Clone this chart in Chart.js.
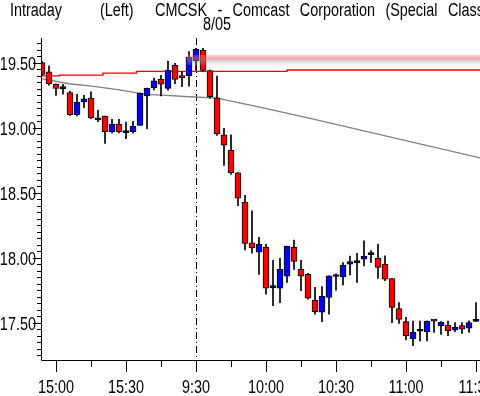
<!DOCTYPE html>
<html>
<head>
<meta charset="utf-8">
<script src="https://cdn.jsdelivr.net/npm/chart.js@4.4.1/dist/chart.umd.min.js"></script>
<style>
html,body{margin:0;padding:0;background:#fff;}
#wrap{position:relative;width:480px;height:396px;overflow:hidden;}
#c{position:absolute;left:0;top:0;}
.t{position:absolute;font-family:"Liberation Sans",Arial,sans-serif;font-size:18px;line-height:18px;color:#000;
   white-space:nowrap;transform:scaleX(0.8);transform-origin:0 0;word-spacing:8px;}
</style>
</head>
<body>
<div id="wrap">
<canvas id="c" width="480" height="396"></canvas>
<div class="t" style="left:10px;top:1px">Intraday</div>
<div class="t" style="left:100px;top:1px">(Left)</div>
<div class="t" style="left:155px;top:1px">CMCSK - Comcast Corporation (Special Class A)</div>
<div class="t" style="left:203px;top:15px">8/05</div>
</div>
<script>
// ==== data (3-minute bars, index 0 = 14:54 previous day) ====
const opens  = [19.50,19.43,19.334,19.30,19.27,19.10,19.198,19.228,19.06,19.09,18.967,19.026,18.962,18.969,19.018,19.244,19.308,19.372,19.303,19.48,19.388,19.398,19.513,19.595,19.44,19.23,18.946,18.826,18.652,18.428,18.115,18.042,18.08,17.77,17.765,17.857,18.08,17.911,17.872,17.672,17.58,17.695,17.855,17.854,17.95,17.962,17.988,18.023,17.995,17.95,17.84,17.608,17.508,17.377,17.434,17.43,17.512,17.477,17.48,17.444,17.477,17.457,17.51];
const highs  = [19.51,19.475,19.338,19.334,19.28,19.257,19.249,19.275,19.136,19.09,19.065,19.065,19.044,19.049,19.267,19.305,19.382,19.403,19.513,19.495,19.43,19.585,19.61,19.61,19.444,19.398,18.995,18.946,18.655,18.48,18.36,18.157,18.103,17.98,17.995,18.09,18.136,17.98,17.88,17.772,17.777,17.86,17.875,17.962,18.013,18.034,18.13,18.054,18.105,18.015,17.84,17.654,17.542,17.512,17.512,17.515,17.515,17.508,17.512,17.50,17.50,17.515,17.655];
const lows   = [19.40,19.328,19.249,19.257,19.095,19.09,19.154,19.07,19.046,18.88,18.96,18.96,18.915,18.957,19.018,18.99,19.29,19.244,19.288,19.338,19.315,19.32,19.44,19.434,19.228,18.94,18.71,18.64,18.40,18.06,18.034,17.872,17.72,17.63,17.654,17.81,17.91,17.746,17.68,17.565,17.508,17.565,17.75,17.79,17.867,17.81,17.936,17.962,17.84,17.823,17.50,17.495,17.367,17.323,17.36,17.36,17.426,17.41,17.40,17.43,17.418,17.426,17.51];
const closes = [19.41,19.338,19.303,19.30,19.10,19.198,19.223,19.075,19.06,18.97,19.028,18.97,18.962,19.013,19.265,19.303,19.36,19.334,19.444,19.372,19.385,19.542,19.603,19.44,19.238,18.954,18.865,18.654,18.457,18.11,18.075,18.103,17.765,17.77,17.911,18.088,17.972,17.857,17.688,17.585,17.703,17.86,17.86,17.944,17.97,17.962,18.013,18.023,17.926,17.834,17.618,17.526,17.40,17.426,17.434,17.512,17.512,17.505,17.438,17.465,17.45,17.50,17.51];

// two average lines: [bar index, price]
const redLine  = [[-0.15,19.385],[2.5,19.398],[8.7,19.405],[13.5,19.42],[35,19.434],[62.6,19.444]];
const grayLine = [[-0.15,19.378],[3.9,19.338],[6.8,19.321],[10.6,19.295],[14.9,19.257],[17.7,19.249],[21.7,19.236],[25,19.228],[31.1,19.159],[38.3,19.072],[62.6,18.767]];

// shaded band (prev. high zone)
const bandFrom = 20.7;
const bandTop = 19.56, bandMid = 19.535, bandBottom = 19.47;

const sessionBreak = 22;
const xTickIdx = [2,12,22,32,42,52,62];
const xTickLabels = ['15:00','15:30','9:30','10:00','10:30','11:00','11:30'];
const yTicks = [17.5,18.0,18.5,19.0,19.5];

const LABEL_FONT = '19px "Liberation Sans", Arial, sans-serif';

const idx = opens.map((_,i)=>i);
const bodies = idx.map(i => ({x:i, y:[opens[i], closes[i]]}));
const wicks  = idx.map(i => ({x:i, y:[lows[i], highs[i]]}));
const bodyColors = idx.map(i => closes[i] > opens[i] ? '#0000ff' : (closes[i] < opens[i] ? '#ff0000' : '#000000'));

function narrowText(ctx, txt, x, y, align){
  ctx.save();
  ctx.translate(x, y);
  ctx.scale(0.76, 1);
  ctx.textAlign = align;
  ctx.textBaseline = 'alphabetic';
  ctx.fillText(txt, 0, 0);
  ctx.restore();
}

const extras = {
  id:'extras',
  beforeDatasetsDraw(chart){
    const {ctx, chartArea:a, scales:{x}} = chart;
    // session break dashed line
    const px = Math.round(x.getPixelForValue(sessionBreak)) + 0.5;
    ctx.save();
    ctx.strokeStyle = '#000'; ctx.lineWidth = 1;
    ctx.setLineDash([7,3,1,3]);
    ctx.beginPath(); ctx.moveTo(px, a.top); ctx.lineTo(px, a.bottom); ctx.stroke();
    ctx.restore();
  },
  afterDatasetsDraw(chart){
    const {ctx, chartArea:a, scales:{x,y}} = chart;
    const x0 = x.getPixelForValue(bandFrom);
    const yT = y.getPixelForValue(bandTop), yM = y.getPixelForValue(bandMid), yB = y.getPixelForValue(bandBottom);
    ctx.save();
    const g = ctx.createLinearGradient(0,yT,0,yB);
    g.addColorStop(0,'rgba(245,140,150,0.3)');
    g.addColorStop((yM-yT)/(yB-yT),'rgba(235,100,110,0.6)');
    g.addColorStop(0.55,'rgba(160,160,160,0.4)');
    g.addColorStop(1,'rgba(210,210,210,0)');
    ctx.fillStyle = g;
    ctx.fillRect(x0, yT, a.right-x0, yB-yT);
    ctx.restore();
  },
  afterDraw(chart){
    const {ctx, chartArea:a, scales:{x,y}} = chart;
    ctx.save();
    ctx.strokeStyle = '#000'; ctx.lineWidth = 1;
    ctx.beginPath();
    // axes
    ctx.moveTo(a.left+0.5, a.top); ctx.lineTo(a.left+0.5, a.bottom+0.5); ctx.lineTo(a.right, a.bottom+0.5);
    // x ticks, major every 10 bars, minor halfway
    for(let i=2;i<=62;i+=5){
      const px = Math.round(x.getPixelForValue(i))+0.5;
      const len = (i-2)%10===0 ? 11 : 6;
      ctx.moveTo(px, a.bottom+1); ctx.lineTo(px, a.bottom+1+len);
    }
    // y ticks every 0.05, major at 0.5
    for(let k=Math.ceil(y.min*20);k<=Math.floor(y.max*20);k++){
      const v = k/20;
      const py = Math.round(y.getPixelForValue(v))+0.5;
      const len = k%10===0 ? 8 : 4;
      ctx.moveTo(a.left, py); ctx.lineTo(a.left-len, py);
    }
    ctx.stroke();
    // tick labels (narrow face like the original)
    ctx.fillStyle = '#000';
    ctx.font = LABEL_FONT;
    xTickIdx.forEach((v,i) => narrowText(ctx, xTickLabels[i], x.getPixelForValue(v), a.bottom + 33, 'center'));
    yTicks.forEach(v => narrowText(ctx, v.toFixed(2), a.left - 5, y.getPixelForValue(v) + 7, 'right'));
    ctx.restore();
  }
};

new Chart(document.getElementById('c'), {
  type:'bar',
  data:{
    datasets:[
      {label:'body', data:bodies, backgroundColor:bodyColors, borderColor:'#000', borderWidth:1,
       borderSkipped:false, barThickness:6, minBarLength:2, grouped:false, order:0},
      {label:'wick', data:wicks, backgroundColor:'#000', borderWidth:0, barThickness:1, grouped:false, order:1},
      {type:'line', label:'avg1', data:redLine.map(p=>({x:p[0],y:p[1]})), borderColor:'#ff0000', borderWidth:1.3,
       stepped:'after', pointRadius:0, order:2},
      {type:'line', label:'avg2', data:grayLine.map(p=>({x:p[0],y:p[1]})), borderColor:'#808080', borderWidth:1.3,
       pointRadius:0, order:3}
    ]
  },
  options:{
    responsive:false, animation:false,
    layout:{padding:{top:38,left:0,right:0,bottom:0}},
    plugins:{legend:{display:false}, tooltip:{enabled:false}},
    scales:{
      x:{type:'linear', min:-1/7, max:438/7, offset:false,
         grid:{display:false, drawTicks:false}, border:{display:false},
         afterBuildTicks(s){ s.ticks = xTickIdx.map(v=>({value:v})); },
         afterFit(s){ s.height = 36; s.paddingLeft = 0; s.paddingRight = 0; },
         ticks:{display:false}},
      y:{type:'linear', min:17.213, max:19.69,
         grid:{display:false, drawTicks:false}, border:{display:false},
         afterBuildTicks(s){ s.ticks = yTicks.map(v=>({value:v})); },
         afterFit(s){ s.width = 41; s.paddingTop = 0; s.paddingBottom = 0; },
         ticks:{display:false}}
    }
  },
  plugins:[extras]
});
</script>
</body>
</html>
